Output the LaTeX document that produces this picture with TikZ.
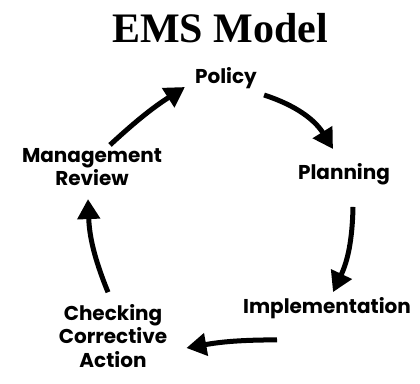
\documentclass[tikz,border=0pt]{standalone}
\usepackage{fontspec}
\setmainfont{Liberation Serif}
\newfontfamily\lbl{Poppins}
\usetikzlibrary{arrows.meta,calc}
\tikzset{
  lab/.style={font=\lbl\bfseries\fontsize{20}{23.5}\selectfont, align=center, inner sep=0pt},
  cyc/.style={line width=5pt, -{Triangle[length=20pt,width=22pt]}},
}
\begin{document}
\begin{tikzpicture}[x=1pt,y=-1pt]
\useasboundingbox (0,0) rectangle (420,383);
\node[font=\bfseries\fontsize{42}{46}\selectfont] (title) at (220,28) {EMS Model};
\node[lab] (pol) at (226,78) {Policy};
\node[lab] (pla) at (344,174) {Planning};
\node[lab] (imp) at (327,308) {Implementation};
\node[lab] (chk) at (113,336) {Checking\\Corrective\\Action};
\node[lab] (mr) at (92,167) {Management\\Review};
\draw[cyc] ($(mr.north)+(18,-3)$) to[bend left=5] ($(pol.west)+(-10,9)$);
\draw[cyc] ($(pol.east)+(7,17)$) to[bend left=20] ($(pla.north)+(-11,-14)$);
\draw[cyc] ($(pla.south)+(9,22)$) to[bend left=12] ($(imp.north)+(6,-5)$);
\draw[cyc] ($(imp.south)+(-50,21)$) to[bend right=5] ($(chk.east)+(19,12)$);
\draw[cyc] ($(chk.north)+(-5,-12)$) to[bend left=10] ($(mr.south)+(-4,13)$);
\end{tikzpicture}
\end{document}
